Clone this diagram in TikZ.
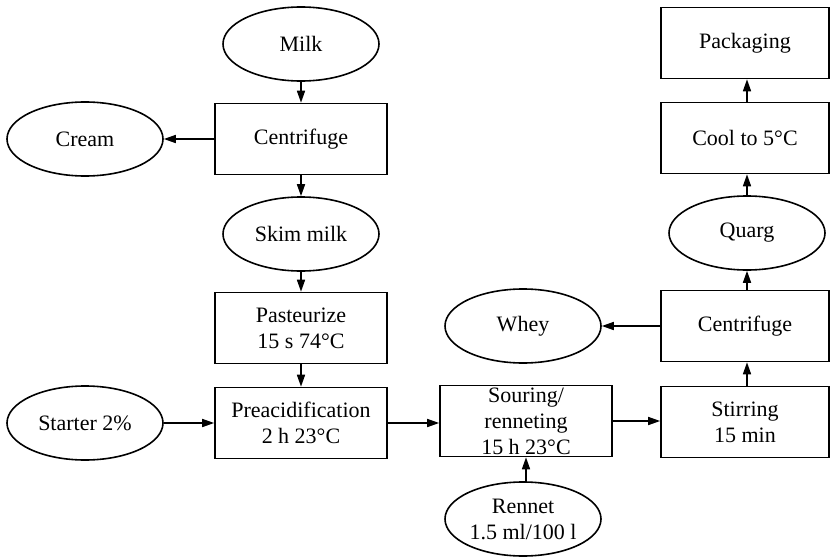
\documentclass[tikz,border=0pt]{standalone}
\usepackage{fontspec}
\setmainfont{Liberation Serif}
\usetikzlibrary{shapes.geometric,arrows.meta}
\begin{document}
\begin{tikzpicture}[x=1pt,y=-1pt,
  every node/.style={font=\fontsize{22}{26}\selectfont, align=center, line width=1.6pt, draw, inner sep=0pt},
  procbox/.style={rectangle, minimum width=172pt, minimum height=71pt},
  rbox/.style={rectangle, minimum width=168pt, minimum height=71pt},
  oval/.style={ellipse, minimum width=156pt, minimum height=74pt},
  flow/.style={line width=1.6pt, -{Triangle[length=12pt,width=8pt]}}]
\useasboundingbox (0,0) rectangle (831,557);
\node[oval] (milk) at (301,44) {Milk};
\node[procbox] (cent1) at (301,139) {Centrifuge};
\node[oval] (cream) at (85,139) {Cream};
\node[oval] (skim) at (301,234) {Skim milk};
\node[procbox] (past) at (301,328) {Pasteurize\\15 s 74°C};
\node[procbox] (preac) at (301,423) {Preacidification\\2 h 23°C};
\node[oval] (starter) at (85,423) {Starter 2\%};
\node[procbox] (sour) at (526,421) {Souring/\\renneting\\15 h 23°C};
\node[oval] (rennet) at (523,519) {Rennet\\1.5 ml/100 l};
\node[rbox] (stir) at (745,422) {Stirring\\15 min};
\node[rbox] (cent2) at (745,326) {Centrifuge};
\node[oval] (whey) at (523,326) {Whey};
\node[oval] (quarg) at (747,233) {Quarg};
\node[rbox] (cool) at (745,138) {Cool to 5°C};
\node[rbox] (pack) at (745,43) {Packaging};
\draw[flow] (milk) -- (cent1);
\draw[flow] (cent1.west) -- (cream.east);
\draw[flow] (cent1) -- (skim);
\draw[flow] (skim) -- (past);
\draw[flow] (past) -- (preac);
\draw[flow] (starter.east) -- (preac.west);
\draw[flow] (preac.east) -- (sour.west |- preac.east);
\draw[flow] (rennet.north -| sour.south) -- (sour.south);
\draw[flow] (sour.east) -- (stir.west |- sour.east);
\draw[flow] (stir.north -| quarg.south) -- (cent2.south -| quarg.south);
\draw[flow] (cent2.west) -- (whey.east);
\draw[flow] (cent2.north -| quarg.south) -- (quarg.south);
\draw[flow] (quarg.north) -- (cool.south -| quarg.north);
\draw[flow] (cool.north -| quarg.north) -- (pack.south -| quarg.north);
\end{tikzpicture}
\end{document}
